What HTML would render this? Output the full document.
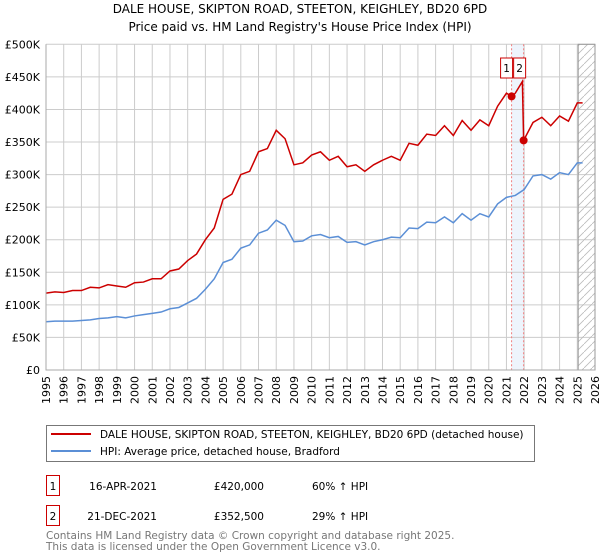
<!DOCTYPE html>
<html><head><meta charset="utf-8"><style>
body{margin:0;background:#fff;font-family:"DejaVu Sans","Liberation Sans",sans-serif;}
svg{display:block}
</style></head><body>
<svg id="chart" width="600" height="560" xmlns="http://www.w3.org/2000/svg" font-family="DejaVu Sans, Liberation Sans, sans-serif">
<text x="300" y="13" font-size="12" text-anchor="middle">DALE HOUSE, SKIPTON ROAD, STEETON, KEIGHLEY, BD20 6PD</text>
<text x="300" y="31" font-size="12" text-anchor="middle">Price paid vs. HM Land Registry's House Price Index (HPI)</text>
<g id="grid"></g><g id="marks"></g><g id="axes"></g>
<g>
<rect x="46.5" y="425.5" width="488" height="36" fill="#fff" stroke="#777"/>
<line x1="51" y1="434" x2="91" y2="434" stroke="#cc0000" stroke-width="2"/>
<text x="100" y="438" font-size="10.5">DALE HOUSE, SKIPTON ROAD, STEETON, KEIGHLEY, BD20 6PD (detached house)</text>
<line x1="51" y1="451" x2="91" y2="451" stroke="#5b8fd6" stroke-width="2"/>
<text x="100" y="455" font-size="10.5">HPI: Average price, detached house, Bradford</text>
</g>
<g font-size="10.5">
<rect x="46.5" y="475.5" width="13" height="20" fill="#fff" stroke="#cc0000"/>
<text x="53" y="490" text-anchor="middle">1</text>
<text x="157" y="490" text-anchor="end">16-APR-2021</text>
<text x="264" y="490" text-anchor="end">£420,000</text>
<text x="312" y="490">60% ↑ HPI</text>
<rect x="46.5" y="505.5" width="13" height="20" fill="#fff" stroke="#cc0000"/>
<text x="53" y="520" text-anchor="middle">2</text>
<text x="157" y="520" text-anchor="end">21-DEC-2021</text>
<text x="264" y="520" text-anchor="end">£352,500</text>
<text x="312" y="520">29% ↑ HPI</text>
</g>
<text x="46" y="539" font-size="10.5" fill="#777">Contains HM Land Registry data © Crown copyright and database right 2025.</text>
<text x="46" y="550" font-size="10.5" fill="#777">This data is licensed under the Open Government Licence v3.0.</text>
</svg>
<script>
const years=[1995,1995.5,1996,1996.5,1997,1997.5,1998,1998.5,1999,1999.5,2000,2000.5,2001,2001.5,2002,2002.5,2003,2003.5,2004,2004.5,2005,2005.5,2006,2006.5,2007,2007.5,2008,2008.5,2009,2009.5,2010,2010.5,2011,2011.5,2012,2012.5,2013,2013.5,2014,2014.5,2015,2015.5,2016,2016.5,2017,2017.5,2018,2018.5,2019,2019.5,2020,2020.5,2021,2021.5,2022,2022.5,2023,2023.5,2024,2024.5,2025,2025.3];
const hpiValues=[74,75,75,75,76,77,79,80,82,80,83,85,87,89,94,96,103,110,124,140,165,170,187,192,210,215,230,222,197,198,206,208,203,205,196,197,192,197,200,204,203,218,217,227,226,235,226,240,230,240,235,255,265,268,277,298,300,293,303,300,318,318];
const priceYears=[1995,1995.5,1996,1996.5,1997,1997.5,1998,1998.5,1999,1999.5,2000,2000.5,2001,2001.5,2002,2002.5,2003,2003.5,2004,2004.5,2005,2005.5,2006,2006.5,2007,2007.5,2008,2008.5,2009,2009.5,2010,2010.5,2011,2011.5,2012,2012.5,2013,2013.5,2014,2014.5,2015,2015.5,2016,2016.5,2017,2017.5,2018,2018.5,2019,2019.5,2020,2020.5,2021,2021.29,2021.5,2021.9,2021.97,2022.5,2023,2023.5,2024,2024.5,2025,2025.3];
const priceValues=[118,120,119,122,122,127,126,131,129,127,134,135,140,140,152,155,168,178,200,218,262,270,300,305,335,340,368,355,315,318,330,335,322,328,312,315,305,315,322,328,322,348,345,362,360,375,360,383,368,384,375,405,425,420,425,443,352.5,380,388,375,390,382,410,410];
const saleYears=[2021.29,2021.97];
const saleValues=[420,352.5];
const saleLabels=["1","2"];
const yTicks=[0,50,100,150,200,250,300,350,400,450,500];
const yTickLabels=["£0","£50K","£100K","£150K","£200K","£250K","£300K","£350K","£400K","£450K","£500K"];
const xTicks=[1995,1996,1997,1998,1999,2000,2001,2002,2003,2004,2005,2006,2007,2008,2009,2010,2011,2012,2013,2014,2015,2016,2017,2018,2019,2020,2021,2022,2023,2024,2025,2026];
const dataEnd=2025.05;
const X0=46,X1=595,Y0=370,Y1=44.3;
const x=v=>X0+(v-1995)/(2026-1995)*(X1-X0);
const y=v=>Y0-v/500*(Y0-Y1);
const NS="http://www.w3.org/2000/svg";
function mk(tag,attrs,parent){const e=document.createElementNS(NS,tag);for(const k in attrs)e.setAttribute(k,attrs[k]);parent.appendChild(e);return e;}
const grid=document.getElementById('grid'),marks=document.getElementById('marks'),axes=document.getElementById('axes');
const defs=mk('defs',{},grid);
const pat=mk('pattern',{id:'hatch',width:8,height:8,patternUnits:'userSpaceOnUse'},defs);
mk('path',{d:'M0,8 L8,0',stroke:'#bbb','stroke-width':0.8},pat);
const band=mk('rect',{x:x(saleYears[0]),y:Y1,width:x(saleYears[1])-x(saleYears[0]),height:Y0-Y1,fill:'#eef4fc'},grid);

xTicks.forEach(t=>{const l=mk('line',{x1:x(t),x2:x(t),y1:Y1,y2:Y0,stroke:'#ccc'},grid);

const tx=mk('text',{x:0,y:0,'font-size':11,'text-anchor':'end',transform:`translate(${x(t)+4},376) rotate(-90)`},axes);tx.textContent=t;
});
yTicks.forEach((t,i)=>{const l=mk('line',{x1:X0,x2:X1,y1:y(t),y2:y(t),stroke:'#ccc'},grid);

const tx=mk('text',{x:X0-6,y:y(t)+4,'font-size':11,'text-anchor':'end'},axes);tx.textContent=yTickLabels[i];
});
const hatch=mk('rect',{x:x(dataEnd),y:Y1,width:X1-x(dataEnd),height:Y0-Y1,fill:'url(#hatch)',stroke:'#999'},grid);

saleYears.forEach(s=>{const l=mk('line',{x1:x(s),x2:x(s),y1:Y1,y2:Y0,stroke:'#f08080','stroke-dasharray':'2,2'},grid);
});
const ax=mk('path',{d:`M${X0},${Y1}V${Y0}H${X1}`,stroke:'#aaa',fill:'none'},axes);

const hp=mk('polyline',{points:years.map((t,i)=>x(t)+','+y(hpiValues[i])).join(' '),fill:'none',stroke:'#5b8fd6','stroke-width':1.5},marks);

const pp=mk('polyline',{points:priceYears.map((t,i)=>x(t)+','+y(priceValues[i])).join(' '),fill:'none',stroke:'#cc0000','stroke-width':1.5},marks);

saleYears.forEach((s,i)=>{const c=mk('circle',{cx:x(s),cy:y(saleValues[i]),r:4,fill:'#cc0000'},marks);

const bx=i===0?x(s)-11:x(s)-10;
const r=mk('rect',{x:bx,y:58,width:12,height:20,fill:'#fff',stroke:'#cc0000'},marks);

const t=mk('text',{x:bx+6,y:72,'font-size':10.5,'text-anchor':'middle'},marks);t.textContent=saleLabels[i];
});
</script>
</body></html>
